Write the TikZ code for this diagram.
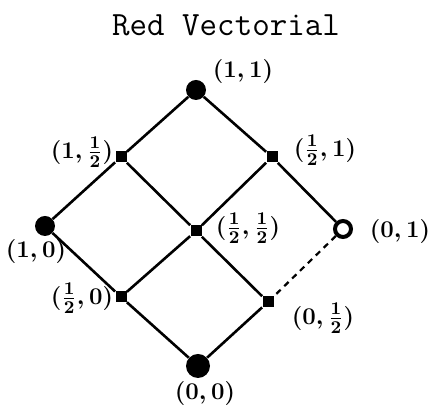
\documentclass[tikz,border=0pt]{standalone}
\usepackage{amsmath,amssymb}
\usepackage{tikz}
\usetikzlibrary{positioning}
\tikzset{
  bigpt/.style={circle, fill=black, inner sep=0pt, minimum size=10pt},
  smallpt/.style={rectangle, fill=black, inner sep=0pt, minimum size=5.5pt},
  openpt/.style={circle, draw=black, line width=2pt, inner sep=0pt, minimum size=8pt},
  lbl/.style={font=\fontsize{13}{15}\selectfont\bfseries, inner sep=0pt},
  edge/.style={line width=1.3pt},
  dashedge/.style={line width=1.1pt, dashed, dash pattern=on 3pt off 2.5pt}
}

\begin{document}
\begin{tikzpicture}[x=0.5pt, y=-0.5pt]
    \useasboundingbox (0,0) rectangle (435,410);
    \node[font=\ttfamily\fontsize{17}{20}\selectfont] (title) at (226,25) {Red Vectorial};
    %% lattice points
    \node[bigpt]   (p11) at (196, 90) {};
    \node[smallpt] (p1h) at (121,157) {};
    \node[smallpt] (ph1) at (272,157) {};
    \node[bigpt]   (p10) at ( 45,226) {};
    \node[smallpt] (phh) at (196,231) {};
    \node[openpt]  (p01) at (343,229) {};
    \node[smallpt] (ph0) at (121,297) {};
    \node[smallpt] (p0h) at (268,302) {};
    \node[bigpt, minimum size=12pt] (p00) at (198,366) {};
    %% edges
    \draw[edge] (p11) -- (p1h);
    \draw[edge] (p11) -- (ph1);
    \draw[edge] (p1h) -- (p10);
    \draw[edge] (p1h) -- (phh);
    \draw[edge] (ph1) -- (phh);
    \draw[edge] (ph1) -- (p01);
    \draw[edge] (p10) -- (ph0);
    \draw[edge] (phh) -- (ph0);
    \draw[edge] (phh) -- (p0h);
    \draw[edge] (ph0) -- (p00);
    \draw[edge] (p0h) -- (p00);
    \draw[dashedge] (p01) -- (p0h);
    %% labels
    \node[lbl] (l11) at (243, 72) {$\boldsymbol{(1,1)}$};
    \node[lbl] (l1h) at ( 82,152) {$\boldsymbol{(1,\tfrac12)}$};
    \node[lbl] (lh1) at (325,150) {$\boldsymbol{(\tfrac12,1)}$};
    \node[lbl] (l10) at ( 36,252) {$\boldsymbol{(1,0)}$};
    \node[lbl] (lhh) at (248,228) {$\boldsymbol{(\tfrac12,\tfrac12)}$};
    \node[lbl] (l01) at (400,232) {$\boldsymbol{(0,1)}$};
    \node[lbl] (lh0) at ( 82,298) {$\boldsymbol{(\tfrac12,0)}$};
    \node[lbl] (l0h) at (323,318) {$\boldsymbol{(0,\tfrac12)}$};
    \node[lbl] (l00) at (205,394) {$\boldsymbol{(0,0)}$};
\end{tikzpicture}
\end{document}
